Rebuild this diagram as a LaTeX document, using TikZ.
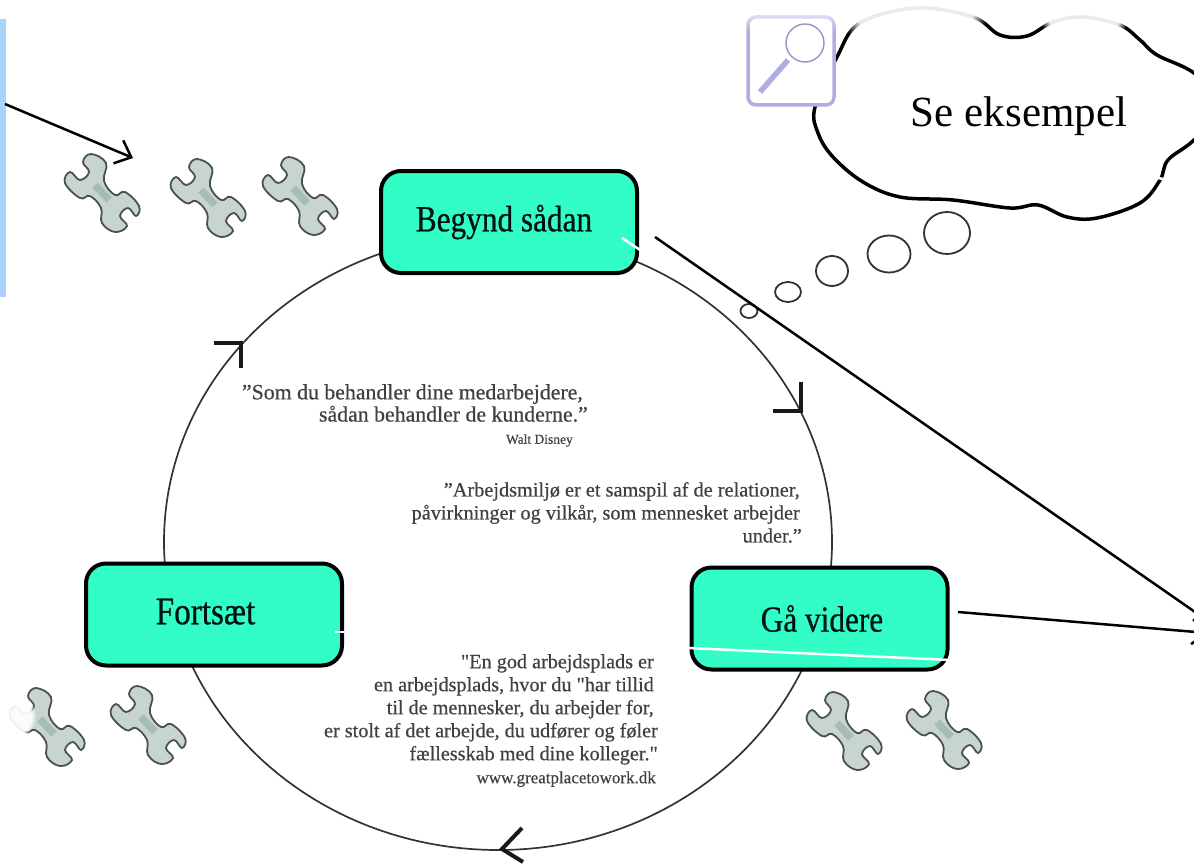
\documentclass[tikz,border=0pt]{standalone}
\usepackage{fontspec}
\usetikzlibrary{arrows.meta,fadings}
\setmainfont{Liberation Serif}
\newfontfamily\boksfont[FakeStretch=0.85,FakeBold=0.6]{Liberation Serif}
\newfontfamily\citatfont[FakeBold=0.5]{Liberation Serif}
\definecolor{turkis}{HTML}{33FDC6}
\definecolor{lyseblaa}{HTML}{AAD4FF}
\definecolor{lup}{HTML}{AEAEE4}
\definecolor{noeglefyld}{HTML}{C8D4D0}
\definecolor{noeglestreg}{HTML}{4A524F}
\definecolor{noeglemidte}{HTML}{A5BDB5}
\tikzset{
  boks/.style={draw=black, line width=4, fill=turkis, rounded corners=20, minimum width=256, minimum height=102, text=black!85!teal, font=\boksfont\fontsize{36.8}{40}\selectfont},
  citat/.style={align=right, anchor=north east, inner sep=0, text=black!75, font=\citatfont\fontsize{20.2}{23}\selectfont},
  pil/.style={line width=2.5, -{Straight Barb[length=14,width=25,line width=2.5]}},
  vinkel/.style={line width=4, color=black!90},
  hvidstreg/.style={line width=2.5, color=white},
  boble/.style={line width=1.8, draw=black!80, fill=white},
  falmet/.style={white, opacity=0.92, path fading=circle with fuzzy edge 20 percent},
  noegle/.pic={
    \draw[line width=1.8, draw=noeglestreg, fill=noeglefyld] plot[smooth cycle, tension=0.7] coordinates {(-11,-39) (-19,-31) (-13,-21) (-22,-13) (-32,-21) (-37,-10) (-22,5) (-12,3) (-1,15) (0,30) (13,39) (25,33) (18,23) (26,15) (34,23) (37,13) (23,-1) (13,2) (2,-12) (4,-30)};
    \draw[line width=7.5, color=noeglemidte] (-7,-8)--(7,7);
  }
}
\begin{document}
\begin{tikzpicture}[x=1pt,y=-1pt]
  \useasboundingbox (0,0) rectangle (1194,864);
  \clip (0,0) rectangle (1194,864);

%Blaa kant
    \fill[lyseblaa] (0,19) rectangle (6,297);

%Cirkel
    \draw[line width=1.7, color=black!80] (498,542) ellipse [x radius=334, y radius=308];
    \draw[vinkel] (214,343)--(241,343)--(241,368);
    \draw[vinkel] (773,411)--(801,411)--(801,382);
    \draw[vinkel] (522,828)--(502,849)--(523,862);

%Bokse
    \node[boks] (begynd) at (509,222) {Begynd sådan\kern10pt};
    \node[boks] (fortsaet) at (214,614.5) {\raisebox{6pt}{\fontsize{39}{40}\selectfont Fortsæt}\kern17pt};
    \node[boks] (videre) at (819.5,618.5) {\kern5pt Gå videre};

%Hvide streger
    \draw[hvidstreg] (622,238)--(640,250);
    \draw[hvidstreg] (335,632)--(347,632);
    \draw[hvidstreg] (688,648)--(951,660);

%Citater
    \node[citat, font=\citatfont\fontsize{21.8}{22.2}\selectfont] (disney) at (588,384) {”Som du behandler dine medarbejdere,\kern5pt\\sådan behandler de kunderne.”\\{\fontsize{13.5}{15}\selectfont Walt Disney\kern15pt}};
    \node[citat, font=\citatfont\fontsize{20.3}{23}\selectfont] (miljoe) at (802,482) {”Arbejdsmiljø er et samspil af de relationer,\kern2pt\\påvirkninger og vilkår, som mennesket arbejder\kern2pt\\under.”};
    \node[citat] (plads) at (658,654) {"En god arbejdsplads er\kern4pt\\en arbejdsplads, hvor du "har tillid\kern4pt\\til de mennesker, du arbejder for,\kern4pt\\er stolt af det arbejde, du udfører og føler\\fællesskab med dine kolleger."\\{\fontsize{17}{19}\selectfont www.greatplacetowork.dk\kern2pt}};

%Noegler
    \pic at (102,193) {noegle};
    \pic at (208,198) {noegle};
    \pic at (300,196) {noegle};
    \pic at (47,727) {noegle};
    \pic at (148,725) {noegle};
    \pic at (844,731) {noegle};
    \pic at (944,730) {noegle};
    \fill[falmet] (13,716) circle (23);

%Sky
    \draw[line width=3.5, fill=white] plot[smooth cycle, tension=0.6] coordinates {(837,57) (860,23) (917,8) (973,17) (1000,35) (1027,36) (1053,22) (1083,17) (1120,25) (1140,40) (1157,55) (1194,73) (1225,105) (1194,140) (1168,160) (1160,180) (1140,203) (1097,218) (1067,217) (1038,205) (1010,208) (953,200) (900,197) (863,182) (833,157) (818,133) (815,107)};
    \fill[falmet] (915,5) circle (72);
    \fill[falmet] (1084,8) circle (46);
    \node[inner sep=0] (eksempel) at (1019,116) {\fontsize{43}{46}\selectfont Se eksempel};
    \draw[hvidstreg] (1158,178)--(1163,179);

%Bobler
    \draw[boble] (947,233) ellipse [x radius=23, y radius=21];
    \draw[boble] (889,254) ellipse [x radius=21.5, y radius=18.5];
    \draw[boble] (832,271) ellipse [x radius=16, y radius=15];
    \draw[boble] (788,292) ellipse [x radius=13, y radius=10];
    \draw[boble] (749,311) ellipse [x radius=8.5, y radius=7];

%Lup
    \draw[line width=3.5, draw=lup, fill=white, rounded corners=8] (748,17) rectangle (834,105);
    \fill[white, opacity=0.7, path fading=south] (744,12) rectangle (838,32);
    \draw[line width=1.4, color=lup!85!black] (805,43) circle (19);
    \draw[line width=5.5, color=lup] (788,60)--(760,92);

%Pile
    \coordinate (pilA) at (5,104);
    \coordinate (pilB) at (133,158);
    \coordinate (pilC) at (655,237);
    \coordinate (pilD) at (1208,621);
    \coordinate (pilE) at (958,612);
    \coordinate (pilF) at (1208,633);
    \path[pil] (pilA) edge (pilB);
    \draw[line width=2.5] (pilC)--(pilD);
    \path[pil] (pilE) edge (pilF);
\end{tikzpicture}
\end{document}
